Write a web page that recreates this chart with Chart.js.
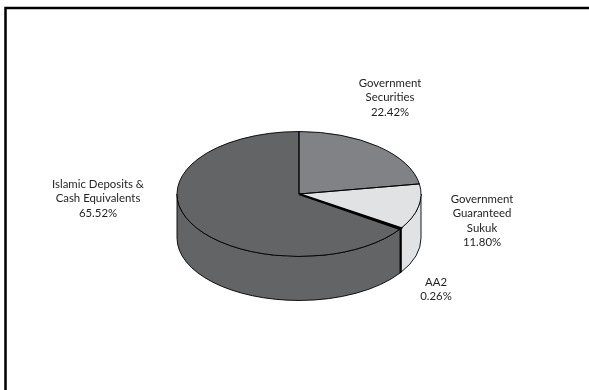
<!DOCTYPE html>
<html>
<head>
<meta charset="utf-8">
<style>
  html, body { margin: 0; padding: 0; background: #fff; }
  canvas { display: block; }
</style>
<script src="https://cdn.jsdelivr.net/npm/chart.js@4"></script>
</head>
<body>
<canvas id="allocationChart" width="589" height="390"></canvas>
<script>
const categories = ['Government Securities', 'Government Guaranteed Sukuk', 'AA2', 'Islamic Deposits & Cash Equivalents'];
const shares = [22.42, 11.80, 0.26, 65.52];
const sliceColors = ['#808285', '#e1e2e4', '#000000', '#636466'];

// Label text, one entry per line, with the anchor for the centre of the first line
const labelLines = [
    ['Government', 'Securities', '22.42%'],
    ['Government', 'Guaranteed', 'Sukuk', '11.80%'],
    ['AA2', '0.26%'],
    ['Islamic Deposits &', 'Cash Equivalents', '65.52%']
];
const labelAnchors = [[390, 83], [482, 199], [436, 282], [98, 184]];

const tilt = 0.512;   // vertical squash of the pie
const depth = 44;     // height of the side wall in px

// Outline of the top face of one slice
function slicePath(ctx, arc) {
    ctx.beginPath();
    ctx.moveTo(arc.x, arc.y);
    ctx.ellipse(arc.x, arc.y, arc.outerRadius, arc.outerRadius * tilt, 0, arc.startAngle, arc.endAngle);
    ctx.closePath();
}

// Turns the flat pie into a disc: walls first, then the squashed top face
const discPlugin = {
    id: 'disc',
    beforeDatasetsDraw(chart) {
        const ctx = chart.ctx;
        const arcs = chart.getDatasetMeta(0).data;
        ctx.save();
        ctx.strokeStyle = '#000';
        ctx.lineWidth = 0.9;
        arcs.forEach(arc => {
            // only the front half of the rim is visible (0 to PI on the canvas)
            const from = Math.max(arc.startAngle, 0);
            const to = Math.min(arc.endAngle, Math.PI);
            if (to <= from) return;
            const ry = arc.outerRadius * tilt;
            ctx.beginPath();
            ctx.ellipse(arc.x, arc.y, arc.outerRadius, ry, 0, from, to);
            ctx.ellipse(arc.x, arc.y + depth, arc.outerRadius, ry, 0, to, from, true);
            ctx.closePath();
            ctx.fillStyle = arc.options.backgroundColor;
            ctx.fill();
            ctx.stroke();
        });
        ctx.restore();

        ctx.save();
        const cy = arcs[0].y;
        ctx.translate(0, cy);
        ctx.scale(1, tilt);
        ctx.translate(0, -cy);
    },
    afterDatasetsDraw(chart) {
        const ctx = chart.ctx;
        ctx.restore();
        ctx.save();
        ctx.strokeStyle = '#000';
        chart.getDatasetMeta(0).data.forEach((arc, i) => {
            ctx.lineWidth = sliceColors[i] === '#000000' ? 2 : 0.9;
            slicePath(ctx, arc);
            ctx.stroke();
        });
        ctx.restore();
    }
};

// Top and left rules, plus the text labels
const framePlugin = {
    id: 'frame',
    afterDraw(chart) {
        const ctx = chart.ctx;
        ctx.save();
        ctx.strokeStyle = '#000';
        ctx.lineWidth = 2.5;
        ctx.beginPath();
        ctx.moveTo(5.5, 390);
        ctx.lineTo(5.5, 8);
        ctx.lineTo(589, 8);
        ctx.stroke();
        ctx.fillStyle = '#1f1f1f';
        ctx.font = '11.4px Lato';
        ctx.textAlign = 'center';
        ctx.textBaseline = 'middle';
        labelLines.forEach((lines, i) => {
            lines.forEach((line, j) => {
                ctx.fillText(line, labelAnchors[i][0], labelAnchors[i][1] + j * 14.6);
            });
        });
        ctx.restore();
    }
};

new Chart(document.getElementById('allocationChart'), {
    type: 'pie',
    data: {
        labels: categories,
        datasets: [{
            data: shares,
            backgroundColor: sliceColors,
            borderWidth: 0
        }]
    },
    options: {
        responsive: false,
        animation: false,
        layout: { padding: { left: 177, right: 168, top: 72, bottom: 74 } },
        plugins: {
            legend: { display: false },
            tooltip: { enabled: false }
        }
    },
    plugins: [discPlugin, framePlugin]
});
</script>
</body>
</html>
